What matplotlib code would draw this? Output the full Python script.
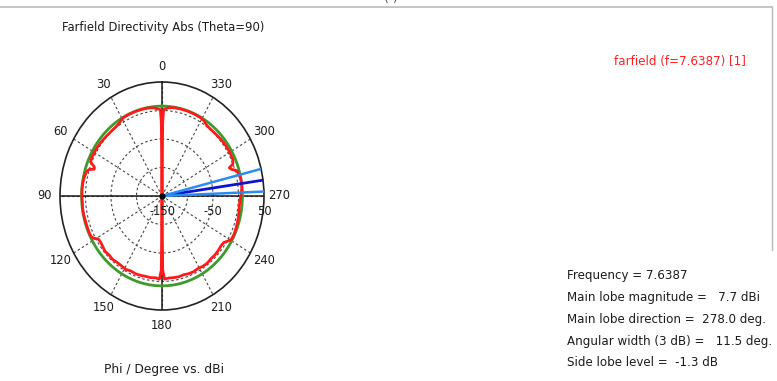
import matplotlib
matplotlib.use('Agg')
import matplotlib.pyplot as plt
import numpy as np

# Directivity cut at theta = 90, phi in degrees and directivity in dBi
phi_deg = [0, 0.6, 1.2, 3, 6, 10, 15, 20, 25, 29, 31, 33, 36, 40, 45, 50, 55, 60, 64,
           67, 69, 70.5, 72, 74, 78, 82, 86, 90, 94, 98, 102, 106, 110, 114, 117, 119,
           121, 124, 127, 131, 135, 139, 143, 147, 151, 155, 159, 163, 167, 171, 175,
           178, 179.4, 180,
           180.6, 182, 185, 189, 193, 197, 201, 205, 209, 213, 217, 221, 225, 229, 233,
           236, 239, 241, 245, 250, 255, 260, 264, 268, 272, 275, 278, 281, 284, 287,
           289, 290.5, 292, 295, 300, 305, 310, 315, 320, 324, 326, 328, 331, 336, 341,
           346, 351, 355, 357, 358.8, 359.4, 360]
dir_dbi = [-150, -20, 1.5, 3.0, 5.5, 6.8, 7.0, 7.2, 7.1, 6.8, 5.5, 3.0, 1.5, 1.0, 1.2,
           2.0, 2.8, 3.2, 3.5, 2.0, -8.0, -9.0, 0.5, 4.0, 6.0, 7.0, 7.2, 7.0, 6.5, 7.2,
           7.0, 6.4, 6.4, 6.5, 6.2, 3.0, -4.0, -5.0, -4.0, -2.0, -3.5, -2.5, -4.0, -4.0,
           -3.0, -5.0, -4.0, -4.5, -5.5, -5.0, -6.0, -4.0, -20, -150,
           -20, -4.0, -5.5, -5.0, -4.5, -5.5, -4.0, -3.5, -4.5, -3.0, -2.5, -4.0, -3.5,
           -4.0, -5.0, -4.0, 2.5, 6.0, 6.5, 5.5, 4.5, 3.5, 2.5, 3.5, 5.5, 7.2, 7.7, 7.3,
           5.5, 3.0, -6.0, -9.0, 0.0, 3.0, 3.5, 3.0, 2.5, 1.5, 1.0, 1.5, 3.0, 5.5, 6.8,
           7.1, 7.2, 7.0, 6.8, 5.5, 3.5, 1.5, -20, -150]

main_lobe_dbi = 7.7
main_dir = 278.0
ang_width = 11.5
freq = 7.6387
side_lobe = -1.3

r_min, r_max = -150, 50
ring_labels = [-150, -50, 50]
theta_labels = list(range(0, 360, 30))

txt_col = '#1c1c1c'

fig = plt.figure(figsize=(7.77, 3.81), dpi=100)

# stretched polar plot (aspect left free so the circle turns into an ellipse)
ax = fig.add_axes([60 / 777, 1 - 310 / 381, 204 / 777, 228 / 381], projection='polar')
ax.set_theta_zero_location('N')
ax.set_theta_direction(1)
ax.set_ylim(r_min, r_max)
ax.set_aspect('auto')

ax.set_rgrids([-100, -50, 0], labels=['', '', ''])
ax.set_thetagrids(theta_labels, labels=[str(a) for a in theta_labels])
ax.grid(True, color='#444444', linestyle=(0, (2.2, 2.2)), linewidth=0.8)
ax.tick_params(axis='x', pad=4, labelsize=8.3, labelcolor=txt_col,
               length=2.5, width=1.2, direction='in', color='#222222')
ax.spines['polar'].set_color('#222222')
ax.spines['polar'].set_linewidth(1.2)

# solid cross through the origin
for a in (0, 90):
    ax.axvline(np.deg2rad(a), color='#1a1a1a', lw=1.1, zorder=2)
    ax.axvline(np.deg2rad(a + 180), color='#1a1a1a', lw=1.1, zorder=2)

# main lobe magnitude circle
circ = np.linspace(0, 2 * np.pi, 361)
ax.plot(circ, np.full_like(circ, main_lobe_dbi), color='#3f9a2c', lw=2.0, zorder=3)

ax.plot(np.deg2rad(phi_deg), dir_dbi, color='#ff1a1a', lw=2.0, zorder=4)

# main lobe direction and 3 dB width
ax.plot(np.deg2rad([main_dir, main_dir]), [r_min, r_max], color='#1010d0', lw=2.0, zorder=5)
for a in (main_dir - ang_width / 2, main_dir + ang_width / 2):
    ax.plot(np.deg2rad([a, a]), [r_min, r_max], color='#2a8cf0', lw=1.8, zorder=5)
ax.plot([0], [r_min], 'o', color='black', ms=3.5, zorder=6)

for v in ring_labels:
    ax.annotate(str(v), xy=(np.deg2rad(270), v), xytext=(0, -11),
                textcoords='offset points', ha='center', va='center',
                fontsize=8.3, color=txt_col, zorder=7)

fig.text(163 / 777, 1 - 28 / 381, 'Farfield Directivity Abs (Theta=90)',
         ha='center', va='center', fontsize=8.4, color=txt_col)
fig.text(164 / 777, 1 - 369 / 381, 'Phi / Degree vs. dBi',
         ha='center', va='center', fontsize=8.8, color=txt_col)
fig.text(680 / 777, 1 - 62 / 381, 'farfield (f=%.4f) [1]' % freq,
         ha='center', va='center', fontsize=8.6, color='#ff2020')

info = ['Frequency = %.4f' % freq,
        'Main lobe magnitude =   %.1f dBi' % main_lobe_dbi,
        'Main lobe direction =  %.1f deg.' % main_dir,
        'Angular width (3 dB) =   %.1f deg.' % ang_width,
        'Side lobe level =  %.1f dB' % side_lobe]
for k, line in enumerate(info):
    fig.text(567 / 777, 1 - (275 + 22 * k) / 381, line,
             ha='left', va='center', fontsize=8.6, color=txt_col)

# panel frame
fig.add_artist(plt.Line2D([0, 772 / 777], [1 - 7 / 381, 1 - 7 / 381],
                          color='#bbbbbb', lw=1.2, transform=fig.transFigure))
fig.add_artist(plt.Line2D([772 / 777, 772 / 777], [1 - 7 / 381, 1 - 250 / 381],
                          color='#bbbbbb', lw=1.0, transform=fig.transFigure))
fig.text(391 / 777, 1 + 2 / 381, '( )', ha='center', va='center',
         fontsize=9, color='#555555')

fig.savefig('out.png', dpi=100)
